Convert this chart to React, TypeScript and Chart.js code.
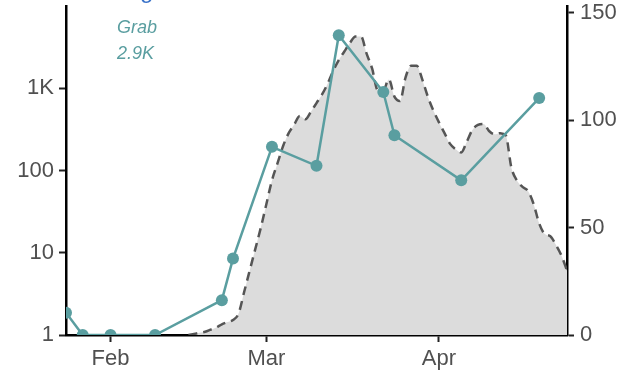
import { useEffect, useRef } from 'react';
import { Chart, registerables } from 'chart.js';

Chart.register(...registerables);

// Day-of-year (Jan 1 = 0)
const monthDays = [31, 59, 90];
const monthLabels = ['Feb', 'Mar', 'Apr'];

const leftTicks = [1, 10, 100, 1000];
const leftTickLabels = ['1', '10', '100', '1K'];
const rightTicks = [0, 50, 100, 150];

const grabDays = [23, 26, 31, 39, 51, 53, 60, 68, 72, 80, 82, 94, 108];
const grabValues = [1.87, 1, 1, 1, 2.65, 8.5, 194, 114, 4400, 900, 268, 76, 760];

const areaStartDay = 45;
const areaValues = [
  0, 0.5, 1, 1.5, 2.5, 3.5, 5, 6, 7, 10,
  20, 30, 40, 50, 61, 72, 80, 88, 94, 98,
  102, 100.5, 104, 108, 112, 117, 123, 128, 132, 136,
  139, 139, 131, 124, 114, 114, 119, 111, 109, 120,
  125.4, 125.4, 119, 111, 104.5, 99, 94, 89, 86.5, 85,
  90, 95.5, 97.8, 98.3, 95, 93.5, 94, 93, 78, 72,
  69, 67, 61, 52, 47, 46, 42, 37, 30,
];

const seriesLabel = 'Grab';
const seriesTotal = '2.9K';

const TEAL = '#5a9ea0';
const FONT = "'Liberation Sans', Arial, sans-serif";
const TICK_COLOR = '#505050';

export default function App() {
  const ref = useRef<HTMLCanvasElement | null>(null);

  useEffect(() => {
    if (!ref.current) return;
    const areaData = areaValues.map((v, i) => ({ x: areaStartDay + i, y: v }));
    const grabData = grabDays.map((d, i) => ({ x: d, y: grabValues[i] }));

    const textPlugin = {
      id: 'texts',
      afterDraw(chart: any) {
        const ctx = chart.ctx;
        ctx.save();
        ctx.fillStyle = TEAL;
        ctx.font = `italic 18px ${FONT}`;
        ctx.textAlign = 'left';
        ctx.textBaseline = 'alphabetic';
        ctx.fillText(seriesLabel, 117, 32.5);
        ctx.fillText(seriesTotal, 117, 59);
        ctx.fillStyle = '#3b73c9';
        ctx.font = `24px ${FONT}`;
        ctx.fillText('g', 140, -2);
        ctx.restore();
      },
    };

    const tickFont = { family: FONT, size: 22 };
    const vFit = (w: number) => (s: any) => {
      s.width = w;
      s.paddingTop = 0;
      s.paddingBottom = 0;
    };

    const chart = new Chart(ref.current, {
      type: 'line',
      data: {
        datasets: [
          {
            label: seriesLabel,
            data: grabData,
            yAxisID: 'y',
            borderColor: TEAL,
            backgroundColor: TEAL,
            borderWidth: 2.5,
            pointRadius: 6,
            pointBackgroundColor: TEAL,
            pointBorderWidth: 0,
            fill: false,
            tension: 0,
            clip: 0,
            order: 0,
          },
          {
            label: 'area',
            data: areaData,
            yAxisID: 'y1',
            borderColor: '#555555',
            backgroundColor: '#dcdcdc',
            borderWidth: 2.5,
            borderDash: [9, 6],
            pointRadius: 0,
            fill: 'origin',
            cubicInterpolationMode: 'monotone',
            clip: 0,
            order: 1,
          },
        ],
      } as any,
      options: {
        responsive: false,
        animation: false,
        devicePixelRatio: 1,
        layout: { padding: { top: 5.7, left: 0, right: 0, bottom: 0 } },
        plugins: { legend: { display: false }, tooltip: { enabled: false } },
        scales: {
          x: {
            type: 'linear',
            min: 23,
            max: 113,
            z: 1,
            afterBuildTicks: (s: any) => {
              s.ticks = monthDays.map((v) => ({ value: v }));
            },
            afterFit: (s: any) => {
              s.height = 42;
              s.paddingLeft = 0;
              s.paddingRight = 0;
            },
            ticks: {
              autoSkip: false,
              maxRotation: 0,
              padding: 4,
              color: TICK_COLOR,
              font: tickFont,
              callback: (v: any) => monthLabels[monthDays.indexOf(Number(v))] ?? '',
            },
            grid: {
              drawOnChartArea: false,
              drawTicks: true,
              tickLength: 7,
              tickColor: '#222',
              tickWidth: 2,
            },
            border: { display: true, color: '#000', width: 2.5 },
          },
          y: {
            type: 'logarithmic',
            position: 'left',
            min: 1,
            max: 10000,
            z: 1,
            afterBuildTicks: (s: any) => {
              s.ticks = leftTicks.map((v) => ({ value: v }));
            },
            afterFit: vFit(66),
            ticks: {
              autoSkip: false,
              padding: 5,
              color: TICK_COLOR,
              font: tickFont,
              callback: (v: any) => leftTickLabels[leftTicks.indexOf(Number(v))] ?? '',
            },
            grid: {
              drawOnChartArea: false,
              drawTicks: true,
              tickLength: 7,
              tickColor: '#222',
              tickWidth: 2,
            },
            border: { display: true, color: '#000', width: 2.5 },
          },
          y1: {
            type: 'linear',
            position: 'right',
            min: 0,
            max: 153.2,
            z: 1,
            afterBuildTicks: (s: any) => {
              s.ticks = rightTicks.map((v) => ({ value: v }));
            },
            afterFit: vFit(58),
            ticks: {
              autoSkip: false,
              padding: 6,
              color: TICK_COLOR,
              font: tickFont,
              callback: (v: any) => String(v),
            },
            grid: {
              drawOnChartArea: false,
              drawTicks: true,
              tickLength: 7,
              tickColor: '#222',
              tickWidth: 2,
            },
            border: { display: true, color: '#000', width: 2.5 },
          },
        },
      } as any,
      plugins: [textPlugin],
    });
    return () => chart.destroy();
  }, []);

  return (
    <div style={{ position: 'fixed', left: 0, top: 0, width: 625, height: 377, background: '#fff' }}>
      <canvas ref={ref} width={625} height={377} style={{ display: 'block' }} />
    </div>
  );
}
